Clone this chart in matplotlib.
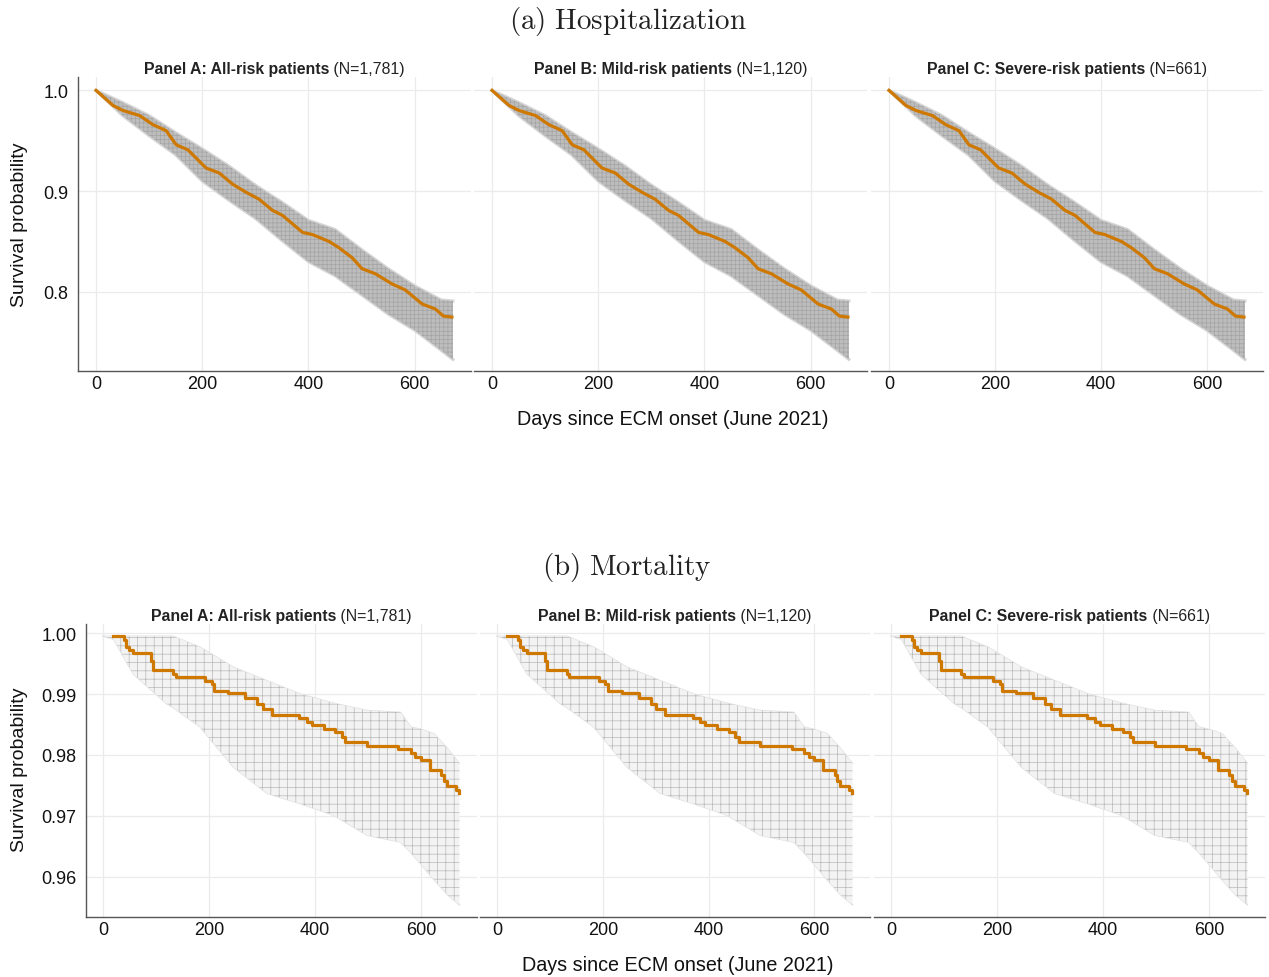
import matplotlib
matplotlib.use("Agg")
import matplotlib.pyplot as plt
from matplotlib.transforms import offset_copy
import numpy as np

plt.rcParams['font.family'] = ['Liberation Sans', 'DejaVu Sans']
plt.rcParams['mathtext.fontset'] = 'cm'
plt.rcParams['hatch.linewidth'] = 0.5

# Panel titles (same three groups in both outcomes)
panel_bold = ["Panel A: All-risk patients", "Panel B: Mild-risk patients",
              "Panel C: Severe-risk patients"]
panel_n = [" (N=1,781)", " (N=1,120)", " (N=661)"]

# (a) Hospitalization: Kaplan-Meier estimate (orange)
hosp_days = [0, 32, 51, 82, 107, 132, 151, 173, 207, 232, 257, 282, 307, 332,
             351, 389, 407, 439, 457, 482, 501, 526, 557, 582, 614, 639, 654, 670]
hosp_surv = [1.000, 0.985, 0.980, 0.975, 0.966, 0.960, 0.946, 0.941, 0.923,
             0.918, 0.907, 0.899, 0.892, 0.881, 0.876, 0.859, 0.857, 0.850,
             0.844, 0.834, 0.823, 0.818, 0.808, 0.802, 0.788, 0.783, 0.776, 0.775]
# envelope of the grey resampled curves
hosp_band_days = [0, 50, 100, 150, 200, 250, 300, 350, 400, 450, 500, 550, 600, 650, 672]
hosp_band_hi = [1.000, 0.988, 0.975, 0.958, 0.942, 0.925, 0.906, 0.889, 0.871,
                0.862, 0.842, 0.823, 0.806, 0.792, 0.791]
hosp_band_lo = [1.000, 0.975, 0.955, 0.936, 0.910, 0.891, 0.873, 0.851, 0.830,
                0.816, 0.797, 0.778, 0.762, 0.742, 0.733]

# (b) Mortality: step points of the Kaplan-Meier estimate
mort_days = [19, 39, 44, 49, 56, 91, 94, 132, 137, 192, 205, 210, 236, 268,
             291, 301, 318, 370, 384, 394, 416, 438, 450, 457, 498, 557, 581,
             589, 600, 617, 638, 643, 649, 665, 671]
mort_surv = [0.99945, 0.9988, 0.9977, 0.9972, 0.9967, 0.9955, 0.9939, 0.9933,
             0.9928, 0.9921, 0.9917, 0.9905, 0.9901, 0.9893, 0.9884, 0.9876,
             0.9865, 0.9860, 0.9854, 0.9849, 0.9843, 0.9838, 0.9830, 0.9821,
             0.9814, 0.9809, 0.9804, 0.9797, 0.9792, 0.9776, 0.9767, 0.9758,
             0.9749, 0.9742, 0.9737]
mort_band_days = [0, 20, 57, 120, 132, 183, 246, 309, 372, 435, 498, 561, 580,
                  600, 624, 650, 672]
mort_band_hi = [0.9995, 0.9995, 0.9995, 0.9995, 0.9995, 0.9977, 0.9944, 0.9922,
                0.9900, 0.9885, 0.9873, 0.9870, 0.9846, 0.9842, 0.9835, 0.9810, 0.9786]
mort_band_lo = [0.9995, 0.9990, 0.9933, 0.9884, 0.9878, 0.9846, 0.9780, 0.9737,
                0.9720, 0.9701, 0.9668, 0.9657, 0.9640, 0.9620, 0.9595, 0.9570, 0.9554]

ORANGE = '#CF7800'
W, H = 1269, 978
fig = plt.figure(figsize=(W / 100, H / 100), dpi=100)
fig.patch.set_facecolor('white')


def px_box(left, top, right, bottom):
    return [left / W, 1 - bottom / H, (right - left) / W, (bottom - top) / H]


def style_axes(ax, first, yticks, ylim, fmt):
    ax.set_xlim(-34, 706)
    ax.set_ylim(*ylim)
    ax.set_xticks([0, 200, 400, 600])
    ax.set_yticks(yticks)
    ax.grid(True, color='#ebebeb', lw=0.9)
    ax.set_axisbelow(True)
    for s in ['top', 'right']:
        ax.spines[s].set_visible(False)
    ax.spines['bottom'].set_color('#555555')
    ax.spines['bottom'].set_linewidth(1.0)
    if first:
        ax.spines['left'].set_color('#555555')
        ax.spines['left'].set_linewidth(1.0)
        ax.set_yticklabels([fmt.format(v) for v in yticks])
    else:
        ax.spines['left'].set_visible(False)
        ax.set_yticklabels([])
    ax.tick_params(axis='both', length=0, labelsize=13, colors='#111111')
    ax.tick_params(axis='x', pad=3)
    ax.tick_params(axis='y', pad=7)


def panel_title(ax, bold, normal):
    fig.canvas.draw()
    r = fig.canvas.get_renderer()
    t1 = ax.text(0, 0, bold, fontsize=11.4, fontweight='bold', color='#222222')
    t2 = ax.text(0, 0, normal, fontsize=11.4, color='#222222')
    w1 = t1.get_window_extent(r).width
    w2 = t2.get_window_extent(r).width
    start = -(w1 + w2) / 2
    t1.set_transform(offset_copy(ax.transAxes, fig=fig, x=start, y=1, units='dots'))
    t2.set_transform(offset_copy(ax.transAxes, fig=fig, x=start + w1, y=1, units='dots'))
    for t in (t1, t2):
        t.set_position((0.5, 1.0))
        t.set_ha('left')
        t.set_va('bottom')


top_boxes = [(78, 471), (474, 867), (871, 1263)]
bot_boxes = [(86, 477), (480, 870), (874, 1265)]

for i, (l, r) in enumerate(top_boxes):
    ax = fig.add_axes(px_box(l, 78, r, 372))
    ax.plot(hosp_band_days, hosp_band_hi, color='#d6d6d6', lw=2.2, zorder=2)
    ax.plot(hosp_band_days, hosp_band_lo, color='#d6d6d6', lw=2.2, zorder=2)
    ax.fill_between(hosp_band_days, hosp_band_lo, hosp_band_hi,
                    facecolor='#bdbdbd', edgecolor='#a4a4a4', hatch='++++',
                    lw=0, zorder=3)
    ax.plot(hosp_days, hosp_surv, color=ORANGE, lw=2.3, zorder=5)
    style_axes(ax, i == 0, [0.8, 0.9, 1.0], (0.7215, 1.0133), '{:.1f}')
    panel_title(ax, panel_bold[i], panel_n[i])

for i, (l, r) in enumerate(bot_boxes):
    ax = fig.add_axes(px_box(l, 625, r, 918))
    ax.plot(mort_band_days, mort_band_hi, color='#e2e2e2', lw=1.0, zorder=2)
    ax.plot(mort_band_days, mort_band_lo, color='#e2e2e2', lw=1.0, zorder=2)
    ax.fill_between(mort_band_days, mort_band_lo, mort_band_hi,
                    facecolor='#f3f3f3', edgecolor='#b8b8b8', hatch='++',
                    lw=0, zorder=3)
    ax.step(mort_days, mort_surv, where='post', color=ORANGE, lw=2.3, zorder=5)
    style_axes(ax, i == 0, [0.96, 0.97, 0.98, 0.99, 1.00], (0.9534, 1.0015), '{:.2f}')
    ax.set_xlim(-32, 705)
    panel_title(ax, panel_bold[i], panel_n[i])

# shared labels and section titles
fig.text(20 / W, 1 - 225 / H, "Survival probability", rotation=90, fontsize=14,
         ha='center', va='center', color='#111111')
fig.text(20 / W, 1 - 770 / H, "Survival probability", rotation=90, fontsize=14,
         ha='center', va='center', color='#111111')
fig.text(673 / W, 1 - 420 / H, "Days since ECM onset (June 2021)", fontsize=14.2,
         ha='center', va='center', color='#111111')
fig.text(678 / W, 1 - 966 / H, "Days since ECM onset (June 2021)", fontsize=14.2,
         ha='center', va='center', color='#111111')
fig.text(628 / W, 1 - 21 / H, r'$\mathrm{(a)\ Hospitalization}$', fontsize=20.9,
         ha='center', va='center', color='#222222')
fig.text(627 / W, 1 - 567 / H, r'$\mathrm{(b)\ Mortality}$', fontsize=20.9,
         ha='center', va='center', color='#222222')

fig.savefig("out.png", dpi=100, facecolor='white')
